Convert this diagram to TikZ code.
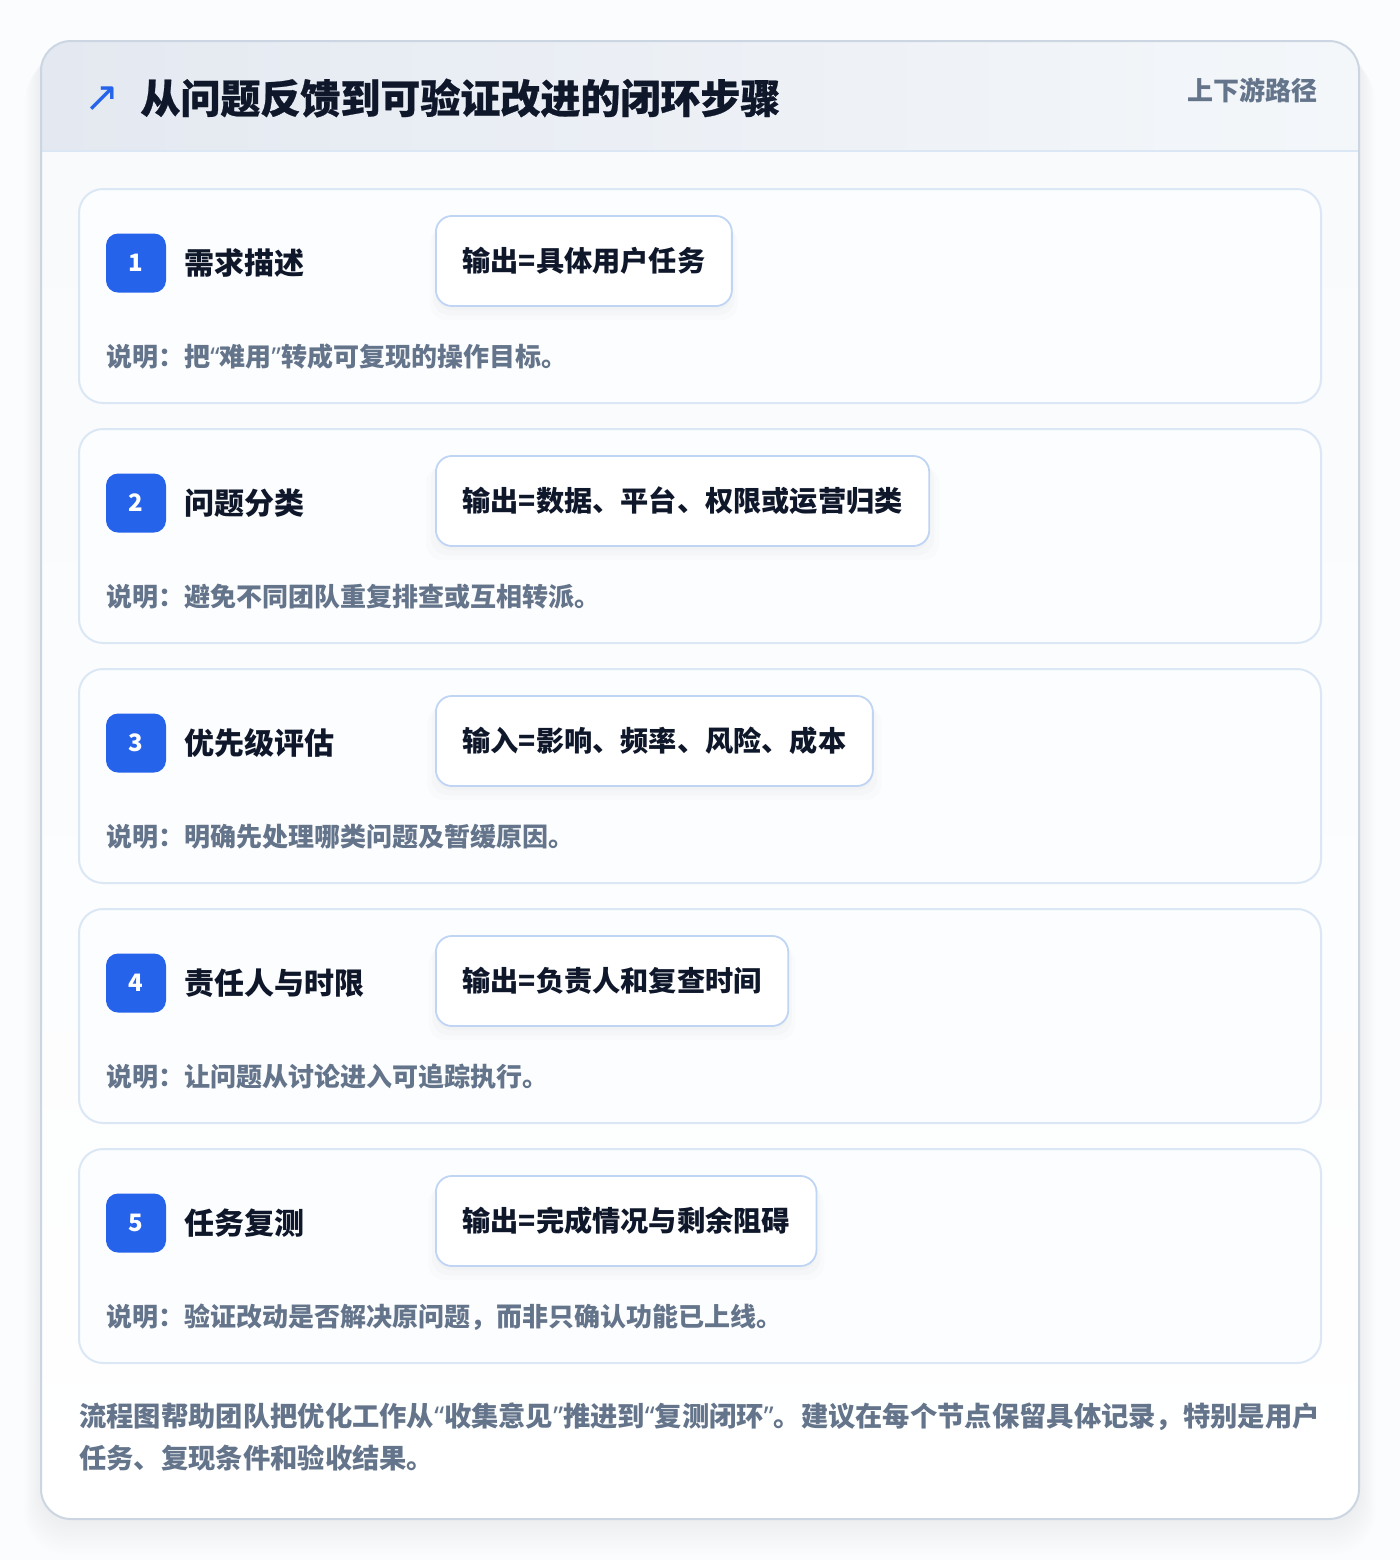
\documentclass[tikz,border=0pt]{standalone}
\usepackage{fontspec}
\setmainfont{Noto Sans CJK SC}
\newfontfamily\heavyfont{Noto Sans CJK SC}[BoldFeatures={FakeBold=0.6}]
\newfontfamily\quotefont{Noto Sans}
\newfontfamily\symfont{DejaVu Sans}
\newcommand\qo{{\quotefont\bfseries “}}
\newcommand\qc{{\quotefont\bfseries ”}}
\usetikzlibrary{shadows}
\definecolor{pagebg}{HTML}{FBFCFD}
\definecolor{cardline}{HTML}{CCD6E2}
\definecolor{hdrL}{HTML}{E4E9F1}
\definecolor{hdrR}{HTML}{F4F7FA}
\definecolor{hdrline}{HTML}{DCE7F5}
\definecolor{bodytop}{HTML}{F8FAFC}
\definecolor{stepfill}{HTML}{FCFDFE}
\definecolor{stepline}{HTML}{DCE7F6}
\definecolor{outline}{HTML}{BFD5F3}
\definecolor{accent}{HTML}{2563EB}
\definecolor{ink}{HTML}{0F172A}
\definecolor{muted}{HTML}{64748B}
\tikzset{
  stepcard/.style={draw=stepline, line width=1pt, fill=stepfill, rounded corners=12pt,
    minimum width=621pt, minimum height=107pt, inner sep=0pt},
  badge/.style={fill=accent, text=white, rounded corners=6pt, minimum width=30pt,
    minimum height=29.5pt, inner sep=0pt, font=\bfseries\fontsize{12pt}{13pt}\selectfont},
  steptitle/.style={anchor=west, inner sep=0pt, text=ink, font=\bfseries\fontsize{15pt}{17pt}\selectfont},
  outbox/.style={anchor=west, draw=outline, line width=0.9pt, fill=white, rounded corners=8pt,
    minimum height=45pt, inner xsep=13.3pt, inner ysep=0pt, text=ink,
    font=\bfseries\fontsize{14.1pt}{16pt}\selectfont,
    drop shadow={opacity=0.025, shadow xshift=0pt, shadow yshift=-6pt, shadow scale=1.04},
    drop shadow={opacity=0.03, shadow xshift=0pt, shadow yshift=-4pt, shadow scale=1.02},
    drop shadow={opacity=0.03, shadow xshift=0pt, shadow yshift=-2pt}},
  desctext/.style={anchor=west, inner sep=0pt, text=muted, font=\bfseries\fontsize{13pt}{15pt}\selectfont}
}
\begin{document}
\begin{tikzpicture}[x=0.5pt,y=-0.5pt]
\useasboundingbox (0,0) rectangle (1400,1560);
\fill[pagebg] (0,0) rectangle (1400,1560);
% soft shadow of the main card
\foreach \k in {1,...,14}
  \fill[black, opacity=0.005, rounded corners=15pt+\k*0.5pt]
    (41-\k*1.2, 41+\k*1.2) rectangle (1359+\k*1.2, 1519+\k*2.6);
% main card
\fill[white, rounded corners=15pt] (41,41) rectangle (1359,1519);
\begin{scope}
  \clip[rounded corners=15pt] (41,41) rectangle (1359,1519);
  \shade[left color=hdrL, right color=hdrR] (41,41) rectangle (1359,151);
  \shade[top color=bodytop, bottom color=white] (41,151) rectangle (1359,1519);
\end{scope}
\draw[hdrline, line width=1pt] (41,151) -- (1359,151);
\draw[cardline, line width=1pt, rounded corners=15pt] (41,41) rectangle (1359,1519);
% header
\node[text=accent, inner sep=0pt, font=\symfont\fontsize{21pt}{24pt}\selectfont] (arrow) at (102,99) {↗};
\node[anchor=west, inner sep=0pt, text=ink, font=\heavyfont\bfseries\fontsize{20pt}{22pt}\selectfont] (title) at (140,98) {从问题反馈到可验证改进的闭环步骤};
\node[anchor=east, inner sep=0pt, text=muted, font=\bfseries\fontsize{13pt}{15pt}\selectfont] (tag) at (1318,90) {上下游路径};
% steps
\foreach \i/\ttl/\outp/\desc [evaluate=\i as \top using 189+240*(\i-1)] in {
  1/需求描述/输出=具体用户任务/说明：把\qo 难用\qc 转成可复现的操作目标。,
  2/问题分类/输出=数据、平台、权限或运营归类/说明：避免不同团队重复排查或互相转派。,
  3/优先级评估/输入=影响、频率、风险、成本/说明：明确先处理哪类问题及暂缓原因。,
  4/责任人与时限/输出=负责人和复查时间/说明：让问题从讨论进入可追踪执行。,
  5/任务复测/输出=完成情况与剩余阻碍/说明：验证改动是否解决原问题，而非只确认功能已上线。}
{
  \node[stepcard] (card\i) at (700,\top+107) {};
  \node[badge] (badge\i) at (136,\top+74) {\i};
  \node[steptitle] (name\i) at (184,\top+74) {\ttl};
  \node[outbox] (out\i) at (435,\top+72) {\outp};
  \node[desctext] (desc\i) at (106,\top+168) {\desc};
}
% footer
\node[anchor=north west, inner sep=0pt, align=left, text=muted,
  font=\bfseries\fontsize{13.65pt}{21pt}\selectfont] (foot) at (79,1402)
  {流程图帮助团队把优化工作从\qo 收集意见\qc 推进到\qo 复测闭环\qc 。建议在每个节点保留具体记录，特别是用户\\任务、复现条件和验收结果。};
\end{tikzpicture}
\end{document}
